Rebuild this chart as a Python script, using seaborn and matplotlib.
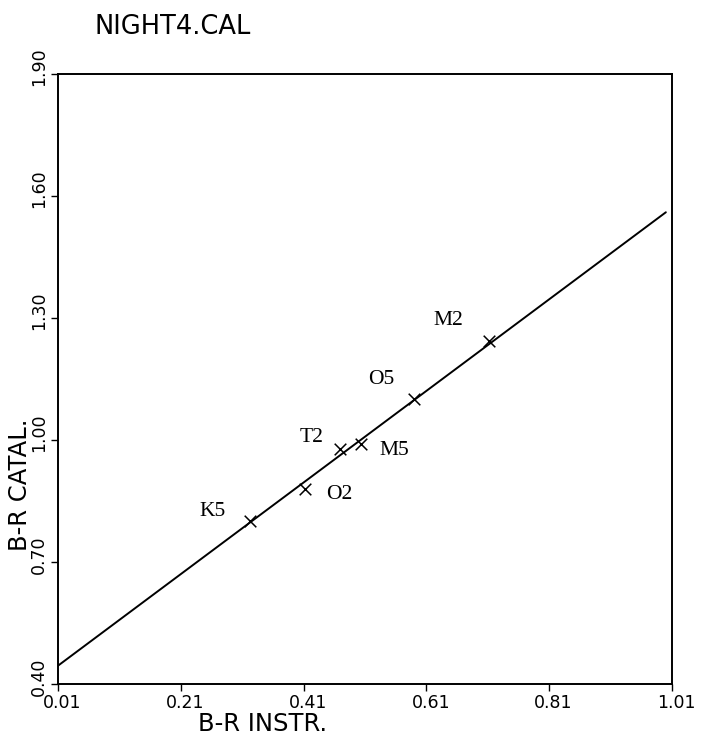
import matplotlib
matplotlib.use("Agg")
import matplotlib.pyplot as plt
from matplotlib.transforms import ScaledTranslation
import seaborn as sns
import pandas as pd

# ---- data ----
title = "NIGHT4.CAL"
star_names = ["K5", "O2", "T2", "M5", "O5", "M2"]
br_instr = [0.322, 0.412, 0.470, 0.504, 0.589, 0.712]
br_catal = [0.800, 0.880, 0.978, 0.989, 1.100, 1.243]
fit_x = [0.01, 1.00]
fit_y = [0.445, 1.560]
x_ticks = [0.01, 0.21, 0.41, 0.61, 0.81, 1.01]
y_ticks = [0.40, 0.70, 1.00, 1.30, 1.60, 1.90]
x_label = "B-R INSTR."
y_label = "B-R CATAL."

# label offsets (points) relative to each marker
label_offsets = [(-27, 7), (25, -4), (-21, 8), (24, -4), (-23, 14), (-29, 15)]

sns.set_style("ticks")
plt.rcParams["font.family"] = ["DejaVu Sans"]
plt.rcParams["text.color"] = "black"
plt.rcParams["xtick.color"] = "black"
plt.rcParams["ytick.color"] = "black"
plt.rcParams["xtick.labelcolor"] = "black"
plt.rcParams["ytick.labelcolor"] = "black"

fig = plt.figure(figsize=(7.06, 7.40), dpi=100)
ax = fig.add_axes([58 / 706, 1 - 684 / 740, 614 / 706, 610 / 740])

pts = pd.DataFrame({"x": br_instr, "y": br_catal, "name": star_names})
fit = pd.DataFrame({"x": fit_x, "y": fit_y})

sns.lineplot(data=fit, x="x", y="y", ax=ax, color="black", linewidth=1.4)
sns.scatterplot(data=pts, x="x", y="y", ax=ax, marker="x", s=70,
                color="black", linewidth=1.1)

for (name, xv, yv), (dx, dy) in zip(zip(star_names, br_instr, br_catal), label_offsets):
    ax.annotate(name, (xv, yv), xytext=(dx, dy), textcoords="offset points",
                ha="center", va="center", fontsize=15.5, family="Liberation Serif",
                color="black")

ax.set_xlim(x_ticks[0], x_ticks[-1])
ax.set_ylim(y_ticks[0], y_ticks[-1])
ax.set_xticks(x_ticks)
ax.set_yticks(y_ticks)
ax.set_xticklabels([f"{v:.2f}" for v in x_ticks], fontsize=12.5)
ax.set_yticklabels([f"{v:.2f}" for v in y_ticks], fontsize=12.5, rotation=90)

for sp in ax.spines.values():
    sp.set_visible(True)
    sp.set_color("black")
    sp.set_linewidth(1.4)

ax.tick_params(axis="both", direction="out", length=5, width=1.0, color="black")
ax.tick_params(axis="x", pad=2)
ax.tick_params(axis="y", pad=2)

# decimal point aligned at tick position
for lab in ax.get_xticklabels():
    lab.set_horizontalalignment("left")
    lab.set_transform(lab.get_transform() + ScaledTranslation(-15 / 100, 0, fig.dpi_scale_trans))
for lab in ax.get_yticklabels():
    lab.set_verticalalignment("bottom")
    lab.set_transform(lab.get_transform() + ScaledTranslation(0, -12 / 100, fig.dpi_scale_trans))

ax.set_xlabel("")
ax.set_ylabel("")
fig.text(263 / 706, 1 - 724 / 740, x_label, ha="center", va="center", fontsize=17.5)
fig.text(20 / 706, 1 - 485 / 740, y_label, ha="center", va="center", fontsize=17.5, rotation=90)
fig.text(95 / 706, 1 - 27 / 740, title, ha="left", va="center", fontsize=18.5)

fig.savefig("out.png", dpi=100, facecolor="white")
